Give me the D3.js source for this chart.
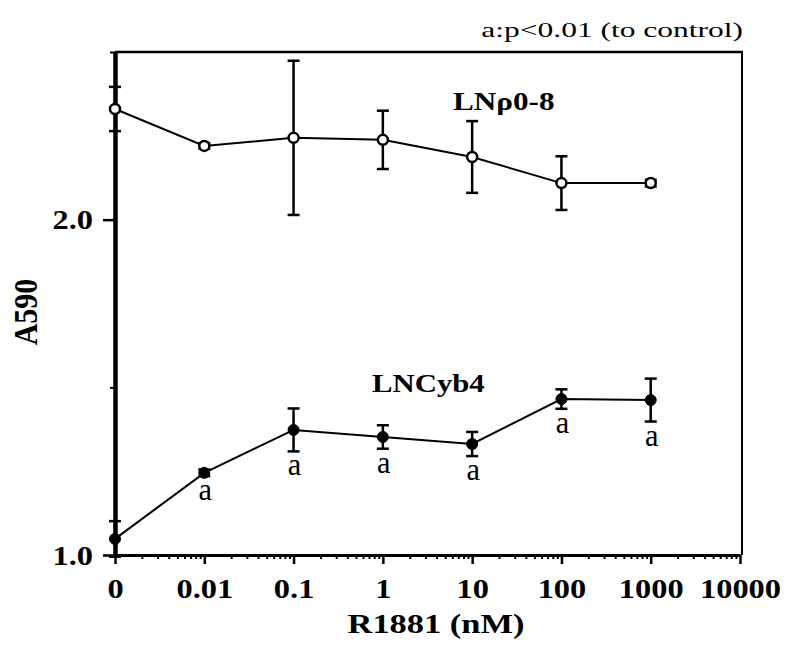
<!DOCTYPE html>
<html>
<head>
<meta charset="utf-8">
<script src="https://cdn.jsdelivr.net/npm/d3@7"></script>
<style>
  body { margin: 0; background: #fff; }
  text { font-family: "Liberation Serif", "Times New Roman", serif; fill: #000; }
</style>
</head>
<body>
<div id="vis"></div>
<script>
// data
const doseLabels = ["0", "0.01", "0.1", "1", "10", "100", "1000"];
const doses = [0, 0.01, 0.1, 1, 10, 100, 1000];
const lnp08Mean = [2.330, 2.220, 2.244, 2.238, 2.187, 2.109, 2.109];
const lnp08Err = [0.066, 0.008, 0.230, 0.087, 0.107, 0.080, 0.010];
const lncyb4Mean = [1.048, 1.245, 1.373, 1.352, 1.331, 1.465, 1.462];
const lncyb4Err = [0.053, 0.010, 0.064, 0.035, 0.036, 0.029, 0.064];
const lncyb4Sig = ["", "a", "a", "a", "a", "a", "a"];

const xTickValues = [0.001, 0.01, 0.1, 1, 10, 100, 1000, 10000];
const xTickLabels = ["0", "0.01", "0.1", "1", "10", "100", "1000", "10000"];
const yMajorTicks = [1.0, 2.0];
const yMinorTicks = [1.5, 2.5];

const WIDTH = 800;
const HEIGHT = 648;
const LEFT = 115;
const RIGHT = 742;
const TOP = 52;
const BOTTOM = 555;
const CONTROL_POS = 0.001; // "0" is drawn at the first decade

var svg = d3.select("#vis")
    .append("svg")
    .attr("width", WIDTH)
    .attr("height", HEIGHT);

var x = d3.scaleLog().domain([0.001, 10000]).range([LEFT, 740]);
var y = d3.scaleLinear().domain([1, 2.5]).range([BOTTOM, TOP]);

function xPos(d) {
    return x(d === 0 ? CONTROL_POS : d);
}

// frame (top + right)
svg.append("line")
    .attr("x1", LEFT).attr("x2", RIGHT + 1)
    .attr("y1", TOP).attr("y2", TOP)
    .attr("stroke", "#000").attr("stroke-width", 2.5);
svg.append("line")
    .attr("x1", RIGHT).attr("x2", RIGHT)
    .attr("y1", TOP).attr("y2", BOTTOM)
    .attr("stroke", "#000").attr("stroke-width", 2);

// x axis
var minorX = [];
for (var e = -3; e < 4; e++) {
    for (var k = 2; k < 10; k++) {
        minorX.push(k * Math.pow(10, e));
    }
}
var xMinor = svg.append("g")
    .attr("transform", "translate(0," + BOTTOM + ")")
    .call(d3.axisBottom(x).tickValues(minorX).tickSize(4).tickFormat(""));
xMinor.select(".domain").remove();
xMinor.selectAll("line").attr("stroke-width", 2);

var xAxis = svg.append("g")
    .attr("transform", "translate(0," + BOTTOM + ")")
    .call(d3.axisBottom(x).tickValues(xTickValues).tickSize(9).tickSizeOuter(0)
        .tickFormat(function (d, i) { return xTickLabels[i]; }));
xAxis.select(".domain").attr("stroke-width", 3);
xAxis.selectAll("line").attr("stroke-width", 2.5);
xAxis.selectAll("text")
    .attr("y", 43).attr("dy", 0)
    .attr("font-size", 27).attr("font-weight", "bold")
    .attr("font-family", "Liberation Serif")
    .attr("transform", "scale(1.2,1)");

// y axis
var yMinor = svg.append("g")
    .attr("transform", "translate(" + LEFT + ",0)")
    .call(d3.axisLeft(y).tickValues(yMinorTicks).tickSize(5).tickFormat(""));
yMinor.select(".domain").remove();
yMinor.selectAll("line").attr("stroke-width", 2);

var yAxis = svg.append("g")
    .attr("transform", "translate(" + LEFT + ",0)")
    .call(d3.axisLeft(y).tickValues(yMajorTicks).tickSize(12).tickSizeOuter(0)
        .tickFormat(d3.format(".1f")));
yAxis.select(".domain").attr("stroke-width", 4.5);
yAxis.selectAll("line").attr("stroke-width", 2.5);
yAxis.selectAll("text")
    .attr("x", 0).attr("dy", "0.34em")
    .attr("font-size", 27).attr("font-weight", "bold")
    .attr("font-family", "Liberation Serif")
    .attr("transform", "translate(-22,0) scale(1.2,1)");

// series
function drawSeries(mean, err, open) {
    var g = svg.append("g");
    var line = d3.line()
        .x(function (d, i) { return xPos(doses[i]); })
        .y(function (d) { return y(d); });
    g.append("path")
        .datum(mean)
        .attr("d", line)
        .attr("fill", "none")
        .attr("stroke", "#000")
        .attr("stroke-width", 2);

    var bars = g.selectAll("g.err")
        .data(mean)
        .enter()
        .append("g")
        .classed("err", true);
    bars.append("line")
        .attr("x1", function (d, i) { return xPos(doses[i]); })
        .attr("x2", function (d, i) { return xPos(doses[i]); })
        .attr("y1", function (d, i) { return y(d - err[i]); })
        .attr("y2", function (d, i) { return y(d + err[i]); })
        .attr("stroke", "#000").attr("stroke-width", 2.5);
    [-1, 1].forEach(function (s) {
        bars.append("line")
            .attr("x1", function (d, i) { return xPos(doses[i]) - 6; })
            .attr("x2", function (d, i) { return xPos(doses[i]) + 6; })
            .attr("y1", function (d, i) { return y(d + s * err[i]); })
            .attr("y2", function (d, i) { return y(d + s * err[i]); })
            .attr("stroke", "#000").attr("stroke-width", 2.5);
    });

    g.selectAll("circle")
        .data(mean)
        .enter()
        .append("circle")
        .attr("cx", function (d, i) { return xPos(doses[i]); })
        .attr("cy", function (d) { return y(d); })
        .attr("r", open ? 5 : 5.5)
        .attr("fill", open ? "#fff" : "#000")
        .attr("stroke", "#000")
        .attr("stroke-width", open ? 2.5 : 1);
}

drawSeries(lnp08Mean, lnp08Err, true);
drawSeries(lncyb4Mean, lncyb4Err, false);

// significance marks
svg.append("g")
    .selectAll("text")
    .data(lncyb4Sig)
    .enter()
    .append("text")
    .text(function (d) { return d; })
    .attr("font-size", 32)
    .attr("text-anchor", "middle")
    .attr("transform", function (d, i) {
        var yy = y(lncyb4Mean[i] - lncyb4Err[i]) + 24;
        return "translate(" + (xPos(doses[i]) + 1) + "," + yy + ") scale(0.95,1)";
    });

// labels
function label(txt, tx, ty, size, bold, sx, anchor) {
    return svg.append("text")
        .text(txt)
        .attr("font-size", size)
        .attr("font-weight", bold ? "bold" : "normal")
        .attr("text-anchor", anchor || "start")
        .attr("transform", "translate(" + tx + "," + ty + ") scale(" + sx + ",1)");
}

label("LNρ0-8", 453, 110, 26, true, 1.2);
label("LNCyb4", 372, 392, 25, true, 1.23);
label("a:p<0.01 (to control)", 743, 37, 21, false, 1.5, "end");
label("R1881 (nM)", 436, 633, 28, true, 1.23, "middle");

svg.append("text")
    .text("A590")
    .attr("font-size", 30)
    .attr("font-weight", "bold")
    .attr("text-anchor", "middle")
    .attr("transform", "translate(37,312) rotate(-90) scale(1,1.1)");
</script>
</body>
</html>
